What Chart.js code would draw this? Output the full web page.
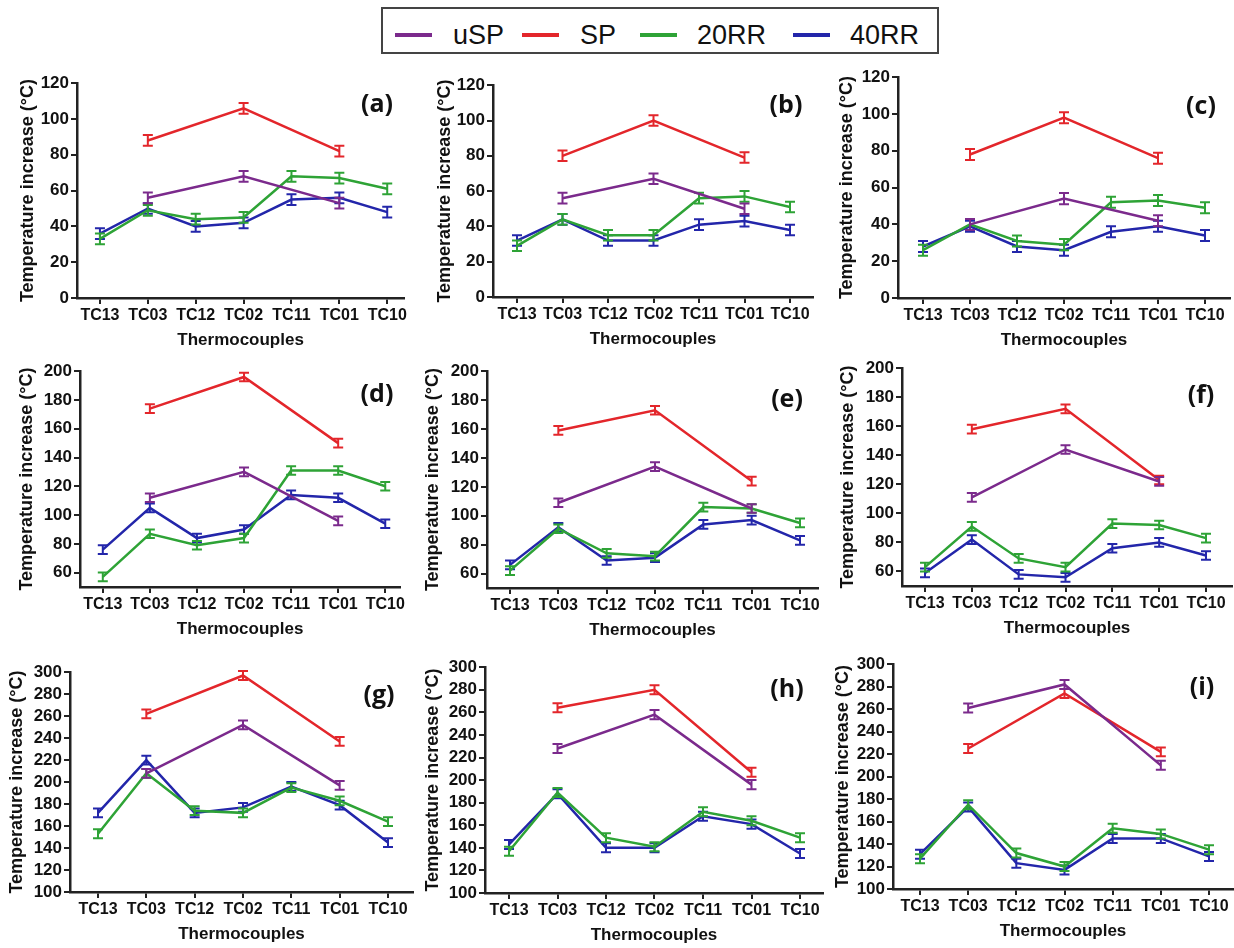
<!DOCTYPE html>
<html>
<head>
<meta charset="utf-8">
<script src="https://cdn.jsdelivr.net/npm/chart.js@4.4.1/dist/chart.umd.min.js"></script>
<style>
  html, body { margin: 0; padding: 0; background: #fff; width: 1234px; height: 948px; overflow: hidden; }
  canvas { position: absolute; }
  .letter { position: absolute; font: bold 25px 'Open Sans', 'Liberation Sans', sans-serif; color: #111; transform: translate(-50%, -50%); }
  #legend { position: absolute; left: 381px; top: 7px; width: 558px; height: 47px; border: 2px solid #444; box-sizing: border-box; }
  .lg-line { position: absolute; height: 4px; top: 24px; }
  .lg-text { position: absolute; top: 10px; font: 27px 'Liberation Sans', Arial, sans-serif; color: #111; line-height: 32px; }
</style>
</head>
<body>
<div id="legend"></div>
<script>
const thermocouples = ['TC13', 'TC03', 'TC12', 'TC02', 'TC11', 'TC01', 'TC10'];
const seriesNames = ['uSP', 'SP', '20RR', '40RR'];
const seriesColors = ['#7b2a8c', '#e3262b', '#2ea336', '#2326aa'];

const ticksLow = [0, 20, 40, 60, 80, 100, 120];
const ticksMid = [60, 80, 100, 120, 140, 160, 180, 200];
const ticksHigh = [100, 120, 140, 160, 180, 200, 220, 240, 260, 280, 300];

// rows: uSP, SP, 20RR, 40RR
const panelA = [
  [null, 56, null, 68, null, 53, null],
  [null, 88, null, 106, null, 82, null],
  [33, 49, 44, 45, 68, 67, 61],
  [36, 50, 40, 42, 55, 56, 48]
];
const panelB = [
  [null, 56, null, 67, null, 50, null],
  [null, 80, null, 100, null, 79, null],
  [29, 44, 35, 35, 56, 57, 51],
  [32, 44, 32, 32, 41, 43, 38]
];
const panelC = [
  [null, 40, null, 54, null, 42, null],
  [null, 78, null, 98, null, 76, null],
  [26, 40, 31, 29, 52, 53, 49],
  [28, 39, 28, 26, 36, 39, 34]
];
const panelD = [
  [null, 112, null, 130, null, 96, null],
  [null, 174, null, 196, null, 150, null],
  [57, 87, 79, 84, 131, 131, 120],
  [76, 105, 84, 90, 114, 112, 94]
];
const panelE = [
  [null, 109, null, 134, null, 105, null],
  [null, 159, null, 173, null, 124, null],
  [62, 91, 74, 72, 106, 105, 95],
  [66, 92, 69, 71, 94, 97, 83]
];
const panelF = [
  [null, 111, null, 144, null, 122, null],
  [null, 158, null, 172, null, 123, null],
  [63, 91, 69, 63, 93, 92, 83],
  [59, 82, 58, 56, 76, 80, 71]
];
const panelG = [
  [null, 208, null, 252, null, 197, null],
  [null, 262, null, 297, null, 237, null],
  [153, 208, 174, 172, 195, 183, 164],
  [172, 220, 172, 177, 196, 179, 145]
];
const panelH = [
  [null, 228, null, 258, null, 196, null],
  [null, 264, null, 280, null, 207, null],
  [137, 189, 149, 141, 172, 164, 149],
  [143, 188, 140, 140, 168, 161, 135]
];
const panelI = [
  [null, 261, null, 282, null, 210, null],
  [null, 225, null, 274, null, 222, null],
  [127, 175, 132, 120, 154, 149, 135],
  [131, 173, 123, 117, 145, 145, 129]
];

// error bar half-heights per series
const errLow = [3, 3, 3, 3];
const errMid = [3, 3, 3, 3];
const errHigh = [4, 4, 4, 4];

// page layout: axis x, first tick x, last tick x, right end, top y, bottom y, title gap, letter x, letter y
const panels = [
  { tag: '(a)', values: panelA, err: errLow, ticks: ticksLow, yMin: 0, yMax: 120, box: [77, 100, 388, 405, 83, 298, 49, 377, 102] },
  { tag: '(b)', values: panelB, err: errLow, ticks: ticksLow, yMin: 0, yMax: 120, box: [493, 517, 790, 813, 85, 297, 48, 786, 103] },
  { tag: '(c)', values: panelC, err: errLow, ticks: ticksLow, yMin: 0, yMax: 120, box: [898, 923, 1205, 1230, 77, 298, 51, 1201, 104] },
  { tag: '(d)', values: panelD, err: errMid, ticks: ticksMid, yMin: 50, yMax: 200, box: [80, 103, 388, 403, 371, 587, 53, 377, 392] },
  { tag: '(e)', values: panelE, err: errMid, ticks: ticksMid, yMin: 50, yMax: 200, box: [487, 510, 800, 818, 371, 588, 54, 787, 397] },
  { tag: '(f)', values: panelF, err: errMid, ticks: ticksMid, yMin: 50, yMax: 200, box: [902, 925, 1206, 1232, 368, 586, 54, 1201, 393] },
  { tag: '(g)', values: panelG, err: errHigh, ticks: ticksHigh, yMin: 100, yMax: 300, box: [70, 98, 388, 413, 672, 892, 53, 379, 693] },
  { tag: '(h)', values: panelH, err: errHigh, ticks: ticksHigh, yMin: 100, yMax: 300, box: [485, 509, 800, 823, 667, 893, 52, 787, 687] },
  { tag: '(i)', values: panelI, err: errHigh, ticks: ticksHigh, yMin: 100, yMax: 300, box: [893, 920, 1209, 1233, 664, 889, 50, 1202, 685] }
];

const axisColor = '#222';
const textColor = '#111';
const fontFamily = "'Liberation Sans', Arial, sans-serif";

const errorBars = {
  id: 'errorBars',
  afterDatasetDraw(chart, args) {
    const ds = chart.data.datasets[args.index];
    const yScale = chart.scales.y;
    const ctx = chart.ctx;
    ctx.save();
    ctx.strokeStyle = ds.borderColor;
    ctx.lineWidth = 2;
    args.meta.data.forEach((pt, i) => {
      const v = ds.data[i].y;
      if (v == null) return;
      const yHi = yScale.getPixelForValue(v + ds.err);
      const yLo = yScale.getPixelForValue(v - ds.err);
      ctx.beginPath();
      ctx.moveTo(pt.x, yHi); ctx.lineTo(pt.x, yLo);
      ctx.moveTo(pt.x - 5, yHi); ctx.lineTo(pt.x + 5, yHi);
      ctx.moveTo(pt.x - 5, yLo); ctx.lineTo(pt.x + 5, yLo);
      ctx.stroke();
    });
    ctx.restore();
  }
};

function makePanel(p) {
  const [axisX, c0, c6, right, top, bottom, gap, lx, ly] = p.box;
  const yW = gap + 11;
  const xH = 53;
  const padT = 12, padR = 4;
  const step = (c6 - c0) / 6;

  const cv = document.createElement('canvas');
  cv.width = right - axisX + yW + padR;
  cv.height = bottom - top + padT + xH;
  cv.style.left = (axisX - yW) + 'px';
  cv.style.top = (top - padT) + 'px';
  document.body.appendChild(cv);

  const letter = document.createElement('div');
  letter.className = 'letter';
  letter.textContent = p.tag;
  letter.style.left = lx + 'px';
  letter.style.top = ly + 'px';
  document.body.appendChild(letter);

  new Chart(cv, {
    type: 'line',
    data: {
      datasets: p.values.map((vals, k) => ({
        label: seriesNames[k],
        data: vals.map((v, i) => ({ x: i, y: v })),
        err: p.err[k],
        borderColor: seriesColors[k],
        backgroundColor: seriesColors[k],
        borderWidth: 2.5,
        pointRadius: 0,
        tension: 0,
        spanGaps: true
      }))
    },
    options: {
      responsive: false,
      animation: false,
      events: [],
      layout: { padding: { top: padT, right: padR, left: 0, bottom: 0 } },
      plugins: { legend: { display: false }, tooltip: { enabled: false } },
      scales: {
        x: {
          type: 'linear',
          min: -(c0 - axisX) / step,
          max: 6 + (right - c6) / step,
          afterBuildTicks: s => { s.ticks = thermocouples.map((_, i) => ({ value: i })); },
          afterFit: s => { s.height = xH; },
          ticks: {
            callback: v => thermocouples[v],
            autoSkip: false, maxRotation: 0, padding: 2,
            color: textColor, font: { family: fontFamily, size: 16, weight: 'bold' }
          },
          grid: { drawOnChartArea: false, tickLength: 6, color: axisColor, lineWidth: 2 },
          border: { color: axisColor, width: 2.5 },
          title: {
            display: true, text: 'Thermocouples', padding: 0, color: textColor,
            font: { family: fontFamily, size: 17, weight: 'bold' }
          }
        },
        y: {
          min: p.yMin,
          max: p.yMax,
          afterBuildTicks: s => { s.ticks = p.ticks.map(v => ({ value: v })); },
          afterFit: s => { s.width = yW; },
          ticks: {
            autoSkip: false, padding: 2, color: textColor,
            font: { family: fontFamily, size: 17, weight: 'bold' }
          },
          grid: { drawOnChartArea: false, tickLength: 6, color: axisColor, lineWidth: 2 },
          border: { color: axisColor, width: 2.5 },
          title: {
            display: true, text: 'Temperature increase (°C)', padding: 0, color: textColor,
            font: { family: fontFamily, size: 18, weight: 'bold' }
          }
        }
      }
    },
    plugins: [errorBars]
  });
}

panels.forEach(makePanel);

// legend
const legendLines = [395, 522, 640, 793];
const legendTexts = [453, 580, 697, 850];
const legend = document.getElementById('legend');
seriesNames.forEach((name, k) => {
  const line = document.createElement('div');
  line.className = 'lg-line';
  line.style.left = (legendLines[k] - 383) + 'px';
  line.style.width = '37px';
  line.style.background = seriesColors[k];
  legend.appendChild(line);
  const txt = document.createElement('div');
  txt.className = 'lg-text';
  txt.textContent = name;
  txt.style.left = (legendTexts[k] - 383) + 'px';
  legend.appendChild(txt);
});
</script>
</body>
</html>
